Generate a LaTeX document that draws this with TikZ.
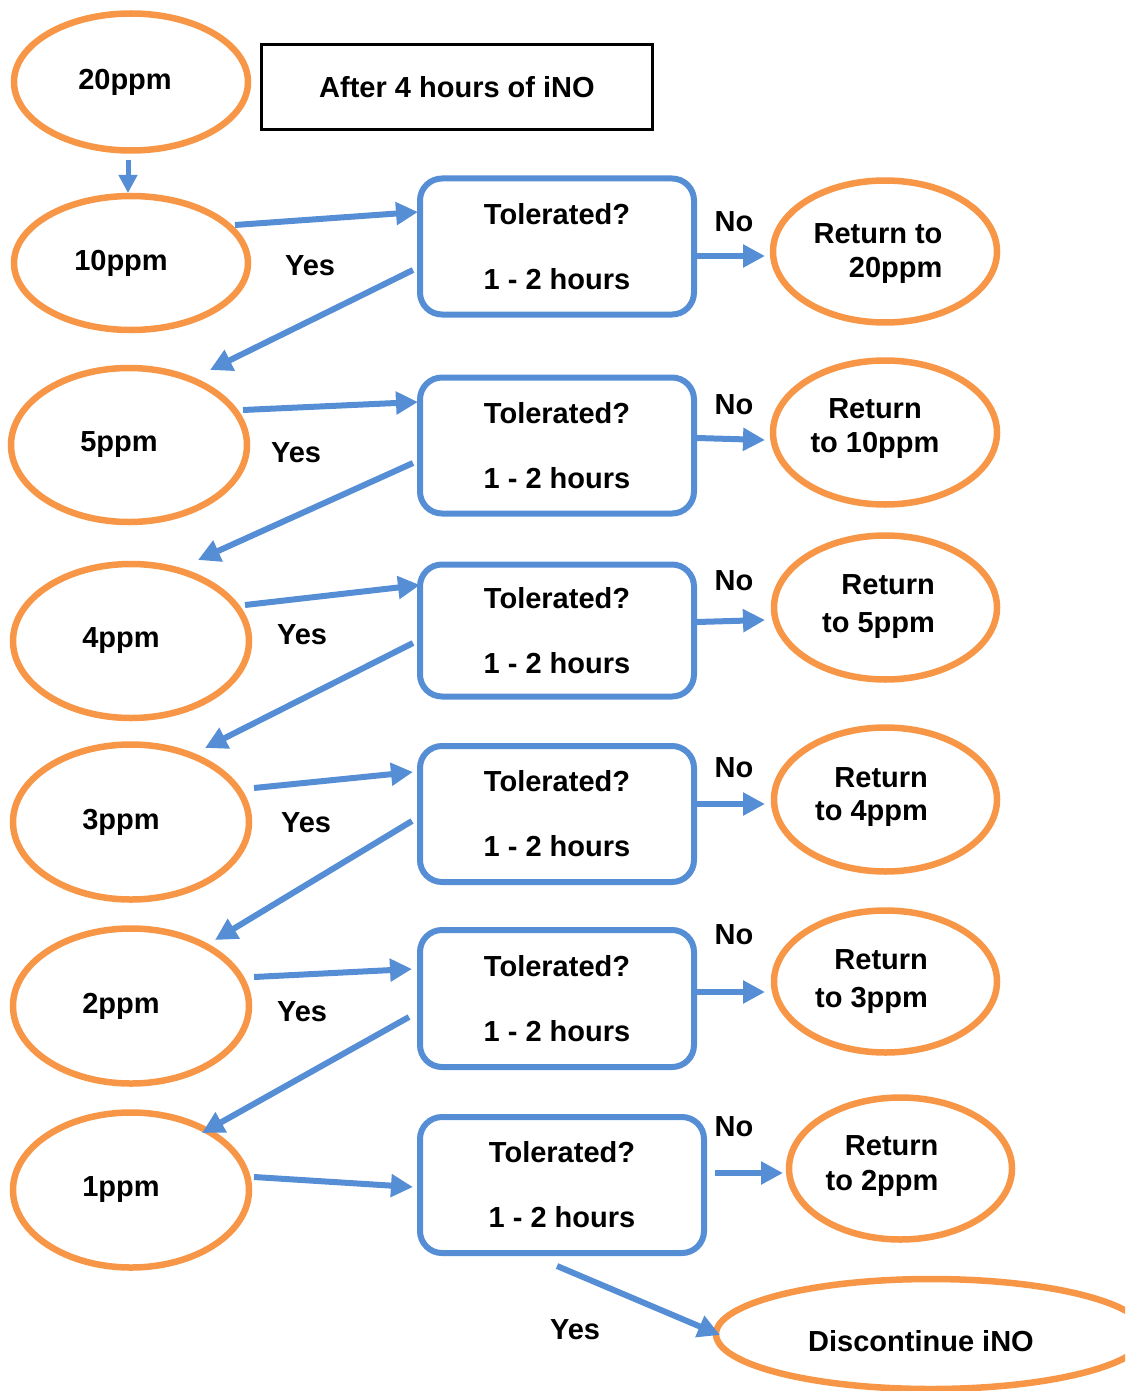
\documentclass[tikz,border=0pt]{standalone}
\usepackage{fontspec}
\setmainfont{Liberation Sans}
\usetikzlibrary{shapes.geometric,arrows.meta,calc}
\definecolor{orng}{RGB}{247,150,70}
\definecolor{blu}{RGB}{85,142,213}
\begin{document}
\begin{tikzpicture}[x=1pt,y=-1pt,
  every node/.style={font=\bfseries\fontsize{29}{34}\selectfont, inner sep=0pt},
  ell/.style={ellipse, draw=orng, line width=6.5pt, minimum width=236pt, minimum height=155pt},
  rell/.style={ellipse, draw=orng, line width=6.5pt, minimum width=223pt, minimum height=144pt},
  tbox/.style={draw=blu, line width=6pt, rounded corners=22pt, minimum width=274pt, minimum height=136pt,
    align=center, font=\bfseries\fontsize{29}{65}\selectfont},
  rtxt/.style={align=right},
  arr/.style={draw=blu, line width=6pt, -{Triangle[length=22pt,width=22pt]}},
  sarr/.style={draw=blu, line width=5pt, -{Triangle[length=18pt,width=18pt]}}]
\useasboundingbox (0,0) rectangle (1125,1391);
\clip (0,0) rectangle (1125,1391);

% left column ellipses
\node[ell, minimum width=234pt, minimum height=137pt] (e20) at (131,82) {\hspace*{-12pt}20ppm};
\node[ell, minimum width=234pt, minimum height=134pt] (e10) at (131,263) {\hspace*{-20pt}10ppm};
\node[ell, minimum height=154pt] (e5) at (129,445) {\hspace*{-20pt}5ppm};
\node[ell, minimum height=154pt] (e4) at (131,641) {\hspace*{-20pt}4ppm};
\node[ell] (e3) at (131,822) {\hspace*{-20pt}3ppm};
\node[ell] (e2) at (131,1006) {\hspace*{-20pt}2ppm};
\node[ell] (e1) at (131,1190) {\hspace*{-20pt}1ppm};

% title
\node[draw=black, line width=3.5pt, minimum width=391pt, minimum height=85pt] (title) at (457,87) {After 4 hours of iNO};

% boxes
\node[tbox] (b1) at (557,246.5) {Tolerated?\\1 - 2 hours};
\node[tbox] (b2) at (557,445.5) {Tolerated?\\1 - 2 hours};
\node[tbox, minimum height=132pt] (b3) at (557,630.5) {Tolerated?\\1 - 2 hours};
\node[tbox] (b4) at (557,814) {Tolerated?\\1 - 2 hours};
\node[tbox, minimum height=137pt] (b5) at (557,998.5) {Tolerated?\\1 - 2 hours};
\node[tbox, minimum width=284pt] (b6) at (562,1185) {Tolerated?\\1 - 2 hours};

% return ellipses
\node[rell, minimum width=224pt, minimum height=142pt] (r20) at (885,251.5) {};
\node[rell, minimum width=224pt] (r10) at (885,432.5) {};
\node[rell] (r5) at (885.5,607.5) {};
\node[rell] (r4) at (885.5,799.5) {};
\node[rell, minimum height=142pt] (r3) at (885.5,981.5) {};
\node[rell, minimum height=142pt] (r2) at (900.5,1168.5) {};
\node[rtxt] (t20) at (878,254) {Return to\\20ppm};
\node[align=center] (t10) at (875,429) {Return\\to 10ppm};
\node[rtxt, font=\bfseries\fontsize{29}{38}\selectfont] (t5) at (878.5,607) {Return\\to 5ppm};
\node[rtxt, font=\bfseries\fontsize{29}{33}\selectfont] (t4) at (871.5,797) {Return\\to 4ppm};
\node[rtxt, font=\bfseries\fontsize{29}{38}\selectfont] (t3) at (871.5,982) {Return\\to 3ppm};
\node[rtxt, font=\bfseries\fontsize{29}{35}\selectfont] (t2) at (882,1166) {Return\\to 2ppm};

% discontinue
\node[ellipse, draw=orng, line width=6.5pt, minimum width=430pt, minimum height=110pt,
  text height=35pt, text depth=0pt] (disc) at (931,1334) {\hspace*{-20pt}Discontinue iNO};

% arrows
\draw[sarr] ($(e20)+(-3,78)$) -- ($(e10)+(-3,-70)$);

\draw[arr] ($(e10)+(104,-38)$) -- ($(b1)+(-139,-34.5)$);
\draw[arr] ($(b1)+(-144,23.5)$) -- ($(e5)+(81,-75)$);
\draw[arr] ($(b1)+(140,9.5)$) -- ($(r20)+(-120,4.5)$);

\draw[arr] ($(e5)+(114,-35)$) -- ($(b2)+(-139,-43.5)$);
\draw[arr] ($(b2)+(-144,17.5)$) -- ($(e4)+(67,-81)$);
\draw[arr] ($(b2)+(140,-7.5)$) -- ($(r10)+(-120,7.5)$);

\draw[arr] ($(e4)+(114,-36)$) -- ($(b3)+(-137,-45.5)$);
\draw[arr] ($(b3)+(-144,12.5)$) -- ($(e3)+(74,-74)$);
\draw[arr] ($(b3)+(140,-8.5)$) -- ($(r5)+(-120.5,12.5)$);

\draw[arr] ($(e3)+(123,-34)$) -- ($(b4)+(-144,-42)$);
\draw[arr] ($(b4)+(-145,7)$) -- ($(e2)+(84,-66)$);
\draw[arr] ($(b4)+(140,-10)$) -- ($(r4)+(-120.5,4.5)$);

\draw[arr] ($(e2)+(123,-29)$) -- ($(b5)+(-145,-29.5)$);
\draw[arr] ($(b5)+(-148,18.5)$) -- ($(e1)+(71,-57)$);
\draw[arr] ($(b5)+(140,-6.5)$) -- ($(r3)+(-120.5,10.5)$);

\draw[arr] ($(e1)+(123,-13)$) -- ($(b6)+(-149,2)$);
\draw[arr] ($(b6)+(153,-12)$) -- ($(r2)+(-117.5,4.5)$);
\draw[arr] ($(b6)+(-5,81)$) -- ($(disc)+(-211,1)$);

% labels
\node (y1) at (310,266) {Yes};
\node (y2) at (296,453) {Yes};
\node (y3) at (302,635) {Yes};
\node (y4) at (306,823) {Yes};
\node (y5) at (302,1012) {Yes};
\node (y6) at (575,1330) {Yes};
\node (n1) at (734,222) {No};
\node (n2) at (734,405) {No};
\node (n3) at (734,581) {No};
\node (n4) at (734,768) {No};
\node (n5) at (734,935) {No};
\node (n6) at (734,1127) {No};
\end{tikzpicture}
\end{document}
